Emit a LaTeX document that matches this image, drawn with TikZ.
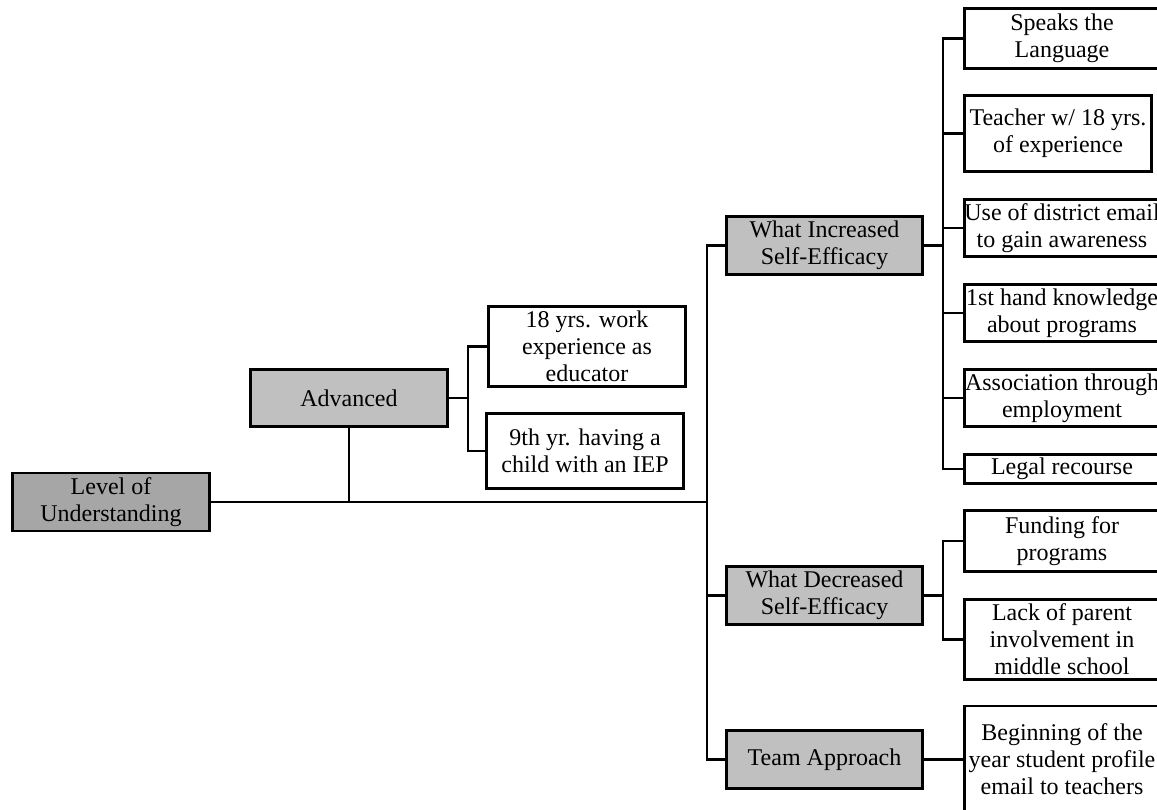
\documentclass[tikz,border=0pt]{standalone}
\usepackage{fontspec}
\setmainfont{Liberation Serif}
\definecolor{darkbox}{HTML}{A6A6A6}
\definecolor{lightbox}{HTML}{C0C0C0}
\begin{document}
\begin{tikzpicture}[x=1pt,y=-1pt,
  box/.style={draw=black, line width=2.9pt, fill=white, inner sep=0pt, align=center,
    font=\fontsize{24}{27}\selectfont, minimum width=195pt},
  gbox/.style={box, fill=lightbox, minimum width=196pt},
  link/.style={line width=2.8pt, line cap=rect}]
\useasboundingbox (0,0) rectangle (1157,809);
\clip (0,0) rectangle (1157,809);
% main level
\node[gbox, fill=darkbox, minimum width=197pt, minimum height=58pt] (lou) at (111,502) {Level of\\Understanding};
\node[gbox, minimum width=197pt, minimum height=57pt] (adv) at (349,398) {Advanced};
\node[box, minimum width=197pt, minimum height=80pt] (a1) at (587,346.5) {18 yrs. work\\experience as\\educator};
\node[box, minimum width=197pt, minimum height=75pt] (a2) at (585,451) {9th yr. having a\\child with an IEP};
\node[gbox, minimum height=58pt] (wis) at (824.5,245.5) {What Increased\\Self-Efficacy};
\node[gbox, minimum height=58pt] (wds) at (824.5,595.5) {What Decreased\\Self-Efficacy};
\node[gbox, minimum height=58pt] (team) at (824.5,759.5) {Team Approach};
% right column
\node[box, minimum height=60pt] (r1) at (1062,38.5) {Speaks the\\Language};
\node[box, minimum width=187pt, minimum height=76pt] (r2) at (1058,133.5) {Teacher w/ 18 yrs.\\of experience};
\node[box, minimum height=57pt] (r3) at (1062,228) {Use of district email\\to gain awareness};
\node[box, minimum height=57pt] (r4) at (1062,313) {1st hand knowledge\\about programs};
\node[box, minimum height=57pt] (r5) at (1062,398) {Association through\\employment};
\node[box, minimum height=29pt] (r6) at (1062,469) {Legal recourse};
\node[box, minimum height=61pt] (r7) at (1062,541) {Funding for\\programs};
\node[box, minimum height=80pt] (r8) at (1062,639.5) {Lack of parent\\involvement in\\middle school};
\node[box, minimum height=107pt] (r9) at (1062,759.5) {Beginning of the\\year student profile\\email to teachers};
% connectors
\coordinate (b1) at (707,502);
\draw[link] (lou.east) -- (b1);
\draw[link] (wis.west) -| (b1);
\draw[link] (team.west) -| (b1);
\draw[link] (wds.west) -- (wds.west -| b1);
\draw[link] (adv.south) -- (adv.south |- b1);
\coordinate (b2) at (468,398);
\draw[link] (adv.east) -- (b2);
\draw[link] (a1.west) -| (b2);
\draw[link] (a2.west) -| (b2);
\coordinate (b3) at (943,245.5);
\draw[link] (wis.east) -- (b3);
\foreach \n in {r1,r2,r3,r4,r5,r6} \draw[link] (\n.west) -| (b3);
\coordinate (b4) at (943,595.5);
\draw[link] (wds.east) -- (b4);
\draw[link] (r7.west) -| (b4);
\draw[link] (r8.west) -| (b4);
\draw[link] (team.east) -- (r9.west);
\end{tikzpicture}
\end{document}
